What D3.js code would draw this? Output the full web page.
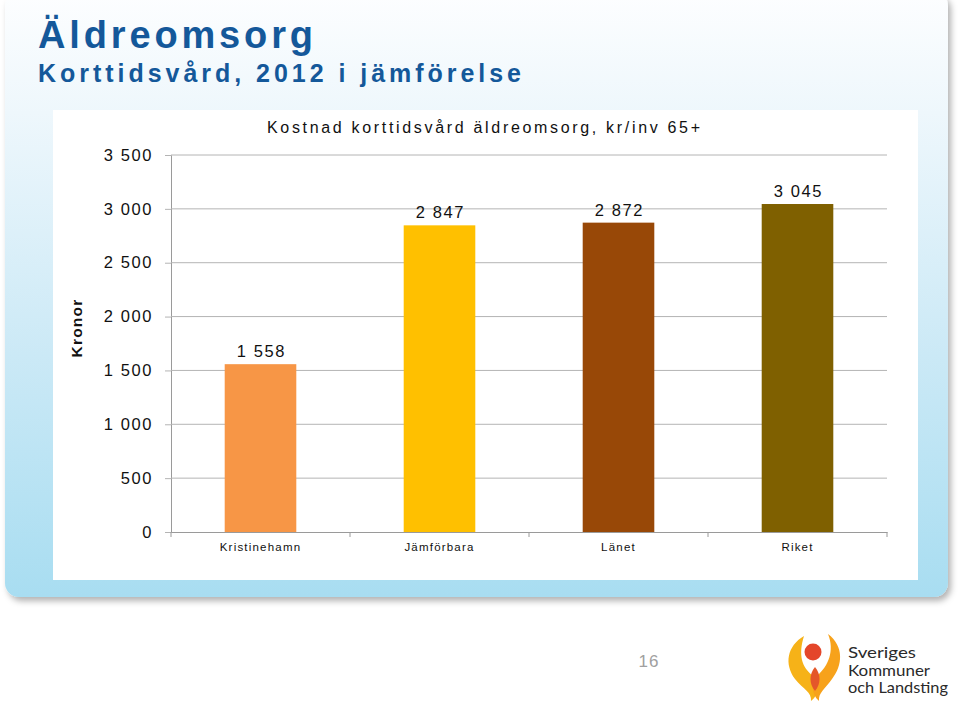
<!DOCTYPE html>
<html>
<head>
<meta charset="utf-8">
<script src="https://cdn.jsdelivr.net/npm/d3@7"></script>
<style>
  html, body { margin: 0; padding: 0; background: #fff; }
  svg { display: block; font-family: "Liberation Sans", Arial, sans-serif; }
</style>
</head>
<body>
<div id="chart"></div>
<script>
const categories = ["Kristinehamn", "Jämförbara", "Länet", "Riket"];
const values = [1558, 2847, 2872, 3045];
const yTickValues = [0, 500, 1000, 1500, 2000, 2500, 3000, 3500];
const barColors = ["#F79646", "#FFC000", "#984807", "#7F6000"];

const pageTitle = "Äldreomsorg";
const pageSubtitle = "Korttidsvård, 2012 i jämförelse";
const chartTitle = "Kostnad korttidsvård äldreomsorg, kr/inv 65+";
const yAxisLabel = "Kronor";
const pageNumber = "16";
const logoLines = ["Sveriges", "Kommuner", "och Landsting"];

const W = 960, H = 706;
const plot = { left: 171, right: 887, top: 155, bottom: 532 };

const svFormat = d3.formatLocale({ decimal: ",", thousands: " ", grouping: [3], currency: ["", " kr"] }).format(",d");

const svg = d3.select("#chart").append("svg")
  .attr("width", W)
  .attr("height", H);

const defs = svg.append("defs");
const grad = defs.append("linearGradient")
  .attr("id", "panelGrad")
  .attr("x1", 0).attr("y1", 0).attr("x2", 0).attr("y2", 1);
grad.append("stop").attr("offset", "0%").attr("stop-color", "#fdfeff");
grad.append("stop").attr("offset", "20%").attr("stop-color", "#eef7fc");
grad.append("stop").attr("offset", "60%").attr("stop-color", "#cbe9f6");
grad.append("stop").attr("offset", "100%").attr("stop-color", "#a8ddf1");

const shadow = defs.append("filter").attr("id", "shadow")
  .attr("x", "-5%").attr("y", "-5%").attr("width", "110%").attr("height", "115%");
shadow.append("feDropShadow")
  .attr("dx", 3).attr("dy", 4).attr("stdDeviation", 3)
  .attr("flood-color", "#000").attr("flood-opacity", 0.3);

// slide panel
svg.append("rect")
  .attr("x", 5).attr("y", -8)
  .attr("width", 943).attr("height", 605)
  .attr("rx", 14)
  .attr("fill", "url(#panelGrad)")
  .attr("filter", "url(#shadow)");

// titles
svg.append("text")
  .attr("x", 38).attr("y", 48)
  .attr("textLength", 275).attr("lengthAdjust", "spacing")
  .style("font-size", "38px").style("font-weight", 700)
  .attr("fill", "#14589a")
  .text(pageTitle);

svg.append("text")
  .attr("x", 38).attr("y", 82)
  .attr("textLength", 483).attr("lengthAdjust", "spacing")
  .style("font-size", "25px").style("font-weight", 700)
  .attr("fill", "#14589a")
  .text(pageSubtitle);

// white chart area
svg.append("rect")
  .attr("x", 53).attr("y", 110)
  .attr("width", 865).attr("height", 470)
  .attr("fill", "#fff");

const x = d3.scaleBand()
  .domain(categories)
  .range([plot.left, plot.right])
  .paddingInner(0.6)
  .paddingOuter(0.3);

const y = d3.scaleLinear()
  .domain([0, 3500])
  .range([plot.bottom, plot.top]);

// y axis
const yAxis = svg.append("g")
  .attr("transform", `translate(${plot.left},0)`)
  .call(d3.axisLeft(y)
    .tickValues(yTickValues)
    .tickSize(6)
    .tickPadding(12)
    .tickFormat(svFormat));
yAxis.select(".domain").attr("stroke", "#9a9a9a");
yAxis.selectAll(".tick line").attr("stroke", "#b4b4b4");
yAxis.selectAll(".tick text")
  .attr("fill", "#111")
  .style("font-size", "16.5px")
  .style("letter-spacing", "1.6px")
  .style("font-family", "'Liberation Sans', Arial, sans-serif");

// gridlines
svg.append("g")
  .selectAll("line")
  .data(yTickValues.filter(d => d > 0))
  .join("line")
  .attr("x1", plot.left).attr("x2", plot.right)
  .attr("y1", d => y(d)).attr("y2", d => y(d))
  .attr("stroke", "#b4b4b4");

// bars
svg.append("g")
  .selectAll("rect")
  .data(values)
  .join("rect")
  .attr("x", (d, i) => x(categories[i]))
  .attr("y", d => y(d))
  .attr("width", x.bandwidth())
  .attr("height", d => y(0) - y(d))
  .attr("fill", (d, i) => barColors[i]);

// value labels
svg.append("g")
  .selectAll("text")
  .data(values)
  .join("text")
  .attr("x", (d, i) => x(categories[i]) + x.bandwidth() / 2 + 1)
  .attr("y", d => y(d) - 7)
  .attr("text-anchor", "middle")
  .style("font-size", "16.5px")
  .style("letter-spacing", "1.6px")
  .attr("fill", "#111")
  .text(d => svFormat(d));

// x axis
const xAxis = svg.append("g")
  .attr("transform", `translate(0,${plot.bottom})`)
  .call(d3.axisBottom(x).tickSize(0).tickPadding(11));
xAxis.select(".domain").attr("stroke", "#9a9a9a");
xAxis.selectAll(".tick text")
  .attr("fill", "#111")
  .style("font-size", "11.5px")
  .style("letter-spacing", "1.2px")
  .style("font-family", "'Liberation Sans', Arial, sans-serif");

const step = x.step();
svg.append("g")
  .selectAll("line")
  .data(d3.range(categories.length + 1))
  .join("line")
  .attr("x1", i => plot.left + i * step).attr("x2", i => plot.left + i * step)
  .attr("y1", plot.bottom).attr("y2", plot.bottom + 5)
  .attr("stroke", "#9a9a9a");

// chart title
svg.append("text")
  .attr("x", 267).attr("y", 133)
  .attr("textLength", 433).attr("lengthAdjust", "spacing")
  .style("font-size", "16px")
  .attr("fill", "#111")
  .text(chartTitle);

// y axis title
svg.append("text")
  .attr("transform", "translate(82,328) rotate(-90)")
  .attr("text-anchor", "middle")
  .style("font-size", "15.5px")
  .style("font-weight", 700)
  .style("letter-spacing", "1.2px")
  .attr("fill", "#111")
  .text(yAxisLabel);

// page number
svg.append("text")
  .attr("x", 649).attr("y", 667)
  .attr("text-anchor", "middle")
  .style("font-size", "17px")
  .style("letter-spacing", "1px")
  .attr("fill", "#a0a0a0")
  .text(pageNumber);

// logo
const logo = svg.append("g");
logo.append("path")
  .attr("d", "M804,636 C787,646 784,664 795,679 C803,689 812,692 811,701 C820,694 821,683 812,675 C802,667 798,655 804,636 Z")
  .attr("fill", "#f6b218");
logo.append("path")
  .attr("d", "M828,634 C844,646 843,665 832,679 C825,689 818,693 819,701 C811,694 811,683 818,675 C828,666 835,651 828,634 Z")
  .attr("fill", "#f7a21b");
logo.append("circle")
  .attr("cx", 813).attr("cy", 652).attr("r", 8.5)
  .attr("fill", "#e4462a");
logo.append("path")
  .attr("d", "M815,667 C821,674 821,684 815,691 C809,684 809,674 815,667 Z")
  .attr("fill", "#e4572a");

logo.selectAll("text.logo")
  .data(logoLines)
  .join("text")
  .attr("class", "logo")
  .attr("x", 848)
  .attr("y", (d, i) => 658 + i * 17.5)
  .attr("textLength", (d, i) => [68, 82, 100][i])
  .attr("lengthAdjust", "spacingAndGlyphs")
  .style("font-family", "Lato, 'Open Sans', sans-serif")
  .style("font-size", "15px")
  .attr("fill", "#2a2a2a")
  .text(d => d);
</script>
</body>
</html>
